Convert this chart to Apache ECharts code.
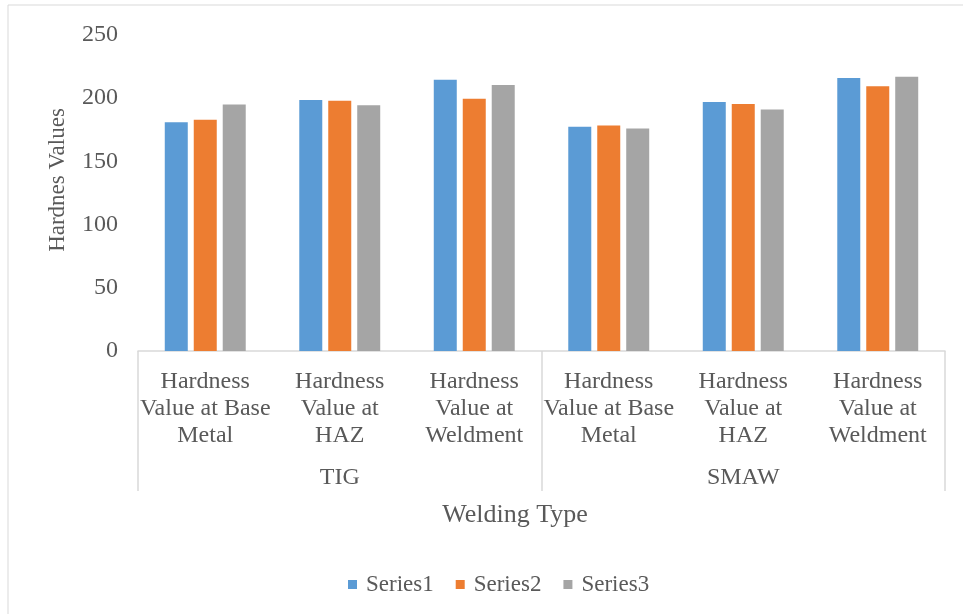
<!DOCTYPE html>
<html>
<head>
<meta charset="utf-8">
<script src="https://cdn.jsdelivr.net/npm/echarts@6/dist/echarts.min.js"></script>
<style>
  html, body { margin: 0; padding: 0; background: #fff; }
  #chart { width: 963px; height: 614px; }
</style>
</head>
<body>
<div id="chart"></div>
<script>
// data
const categories = [
  'Hardness\nValue at Base\nMetal', 'Hardness\nValue at\nHAZ', 'Hardness\nValue at\nWeldment',
  'Hardness\nValue at Base\nMetal', 'Hardness\nValue at\nHAZ', 'Hardness\nValue at\nWeldment'
]
const groups = ['TIG', 'SMAW']
const series1 = [181, 198.5, 214.5, 177.5, 197, 216]
const series2 = [183, 198, 199.5, 178.5, 195.5, 209.5]
const series3 = [195, 194.5, 210.5, 176, 191, 217]
const seriesNames = ['Series1', 'Series2', 'Series3']
const colors = ['#5B9BD5', '#ED7D31', '#A5A5A5']

const font = 'Liberation Serif'
const textColor = '#595959'
const lineColor = '#d9d9d9'

const chart = echarts.init(document.getElementById('chart'))

const makeBar = (name, data, color) => ({
  name: name,
  type: 'bar',
  xAxisIndex: 0,
  data: data,
  barWidth: 23,
  barGap: '26%',
  itemStyle: { color: color },
  emphasis: { disabled: true }
})

const option = {
  animation: false,
  color: colors,
  textStyle: { fontFamily: font },
  grid: { left: 138, right: 18, top: 35, bottom: 263 },
  legend: {
    data: seriesNames,
    left: 343,
    top: 568,
    icon: 'rect',
    itemWidth: 9,
    itemHeight: 9,
    itemGap: 22,
    textStyle: { fontFamily: font, fontSize: 23, color: textColor, padding: [0, 0, 0, 4] }
  },
  xAxis: [
    {
      type: 'category',
      data: categories,
      axisLine: { lineStyle: { color: lineColor, width: 1.5 } },
      axisTick: { show: false },
      axisLabel: {
        interval: 0,
        margin: 17,
        fontFamily: font,
        fontSize: 24,
        lineHeight: 27,
        color: textColor
      }
    },
    {
      type: 'category',
      data: groups,
      position: 'bottom',
      axisLine: { show: false },
      axisTick: { show: true, length: 140, lineStyle: { color: lineColor, width: 1.5 } },
      axisLabel: {
        interval: 0,
        margin: 115,
        fontFamily: font,
        fontSize: 24,
        color: textColor
      }
    }
  ],
  yAxis: {
    type: 'value',
    min: 0,
    max: 250,
    interval: 50,
    axisLine: { show: false },
    axisTick: { show: false },
    splitLine: { show: false },
    axisLabel: { margin: 20, fontFamily: font, fontSize: 24, color: textColor }
  },
  graphic: [
    {
      type: 'rect',
      shape: { x: 8, y: 5, width: 1000, height: 700 },
      style: { fill: 'none', stroke: lineColor, lineWidth: 1 },
      silent: true
    },
    {
      type: 'text',
      x: 58,
      y: 180,
      rotation: Math.PI / 2,
      style: {
        text: 'Hardnes Values',
        fontFamily: font,
        fontSize: 23,
        fill: textColor,
        align: 'center',
        verticalAlign: 'middle'
      }
    },
    {
      type: 'text',
      x: 515,
      y: 515,
      style: {
        text: 'Welding Type',
        fontFamily: font,
        fontSize: 26,
        fill: textColor,
        align: 'center',
        verticalAlign: 'middle'
      }
    }
  ],
  series: [
    makeBar(seriesNames[0], series1, colors[0]),
    makeBar(seriesNames[1], series2, colors[1]),
    makeBar(seriesNames[2], series3, colors[2])
  ]
}

chart.setOption(option)
</script>
</body>
</html>
